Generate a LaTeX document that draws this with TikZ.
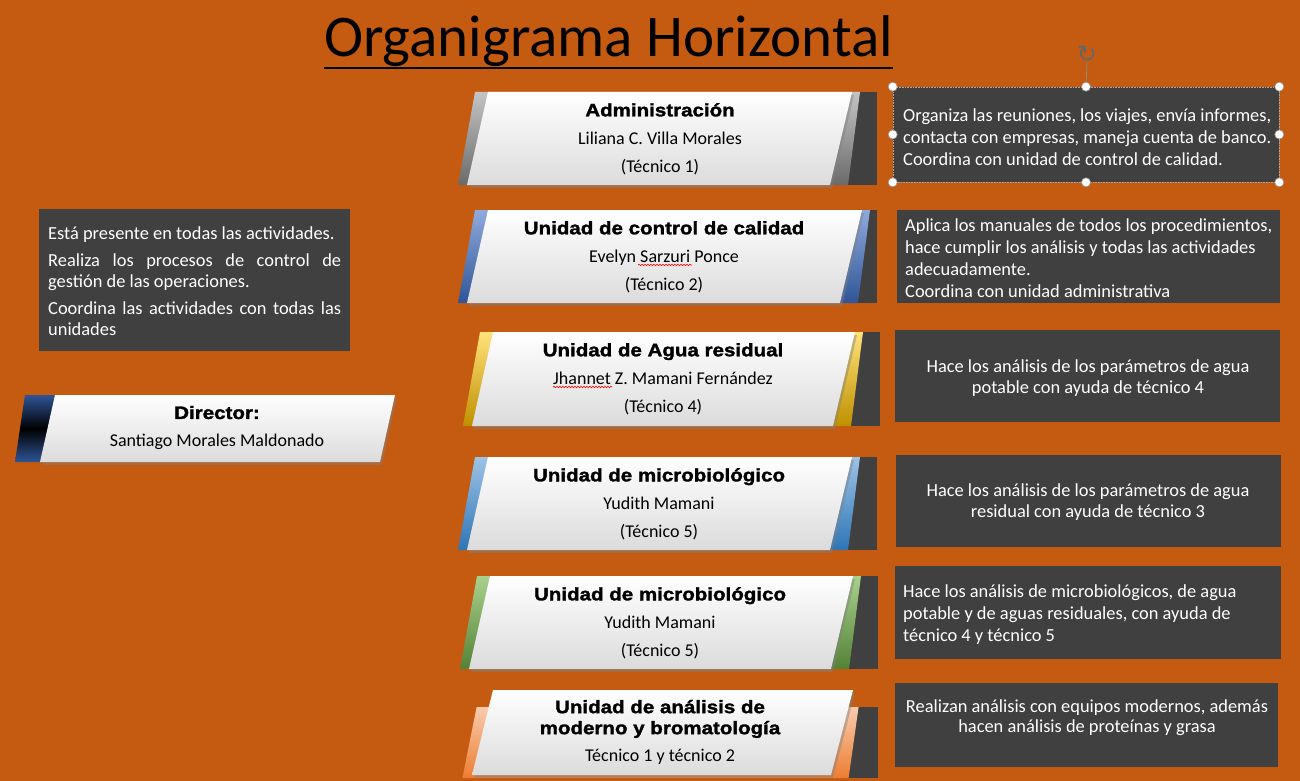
\documentclass[tikz,border=0pt]{standalone}
\usepackage{fontspec}
\setmainfont{Carlito}
\newfontfamily\headfont[FakeStretch=1.14,FakeBold=1.6]{Liberation Sans Bold}
\newfontfamily\symfont{DejaVu Sans}
\usetikzlibrary{shadows,decorations.pathmorphing}
\definecolor{bg}{HTML}{C55A11}
\definecolor{boxgray}{HTML}{404040}
\definecolor{grayA}{HTML}{C4C4C4}
\definecolor{grayB}{HTML}{6A6A6A}
\definecolor{blueA}{HTML}{8FAADC}
\definecolor{blueB}{HTML}{2F5597}
\definecolor{yelA}{HTML}{FFE27A}
\definecolor{yelB}{HTML}{BF9000}
\definecolor{lbA}{HTML}{9DC3E6}
\definecolor{lbB}{HTML}{2E75B6}
\definecolor{grA}{HTML}{A9D18E}
\definecolor{grB}{HTML}{548235}
\definecolor{orA}{HTML}{F8CBAD}
\definecolor{orB}{HTML}{ED7D31}
\definecolor{navy}{HTML}{2F5597}
\newcommand{\hd}[1]{{\headfont\fontsize{18}{28}\selectfont #1}}
% #1 T, #2 B, #3 tlx, #4 trx, #5 accT, #6 accB, #7 light, #8 dark, #9 tab right
\newcommand{\unitbox}[9]{%
  \fill[tabbox] (#4-7,#5) rectangle (#9,#6);
  \shade[top color=#7,bottom color=#8]
    ({#3-13-17*(#5-#1)/(#2-#1)},#5) -- ({#4+8-12*(#5-#1)/(#2-#1)},#5)
    -- ({#4+8-12*(#6-#1)/(#2-#1)},#6) -- ({#3-13-17*(#6-#1)/(#2-#1)},#6) -- cycle;
  \shade[whitebody] (#3,#1) -- (#4,#1) -- (#4-22,#2) -- (#3-21,#2) -- cycle;
}
\begin{document}
\begin{tikzpicture}[x=1pt,y=-1pt,
  whitebody/.style={top color=white,bottom color=black!14,
    drop shadow={opacity=0.45,shadow xshift=2pt,shadow yshift=-3pt}},
  tabbox/.style={fill=boxgray},
  dbox/.style={fill=boxgray,inner sep=0pt,draw=none},
  dtext/.style={text=white,font=\fontsize{18.4}{22}\selectfont,inner sep=0pt},
  utext/.style={font=\fontsize{18}{28}\selectfont,align=center,inner sep=0pt},
  handle/.style={circle,fill=white,draw=black!40,line width=0.6pt,minimum size=9pt,inner sep=0pt},
  spell/.style={red,line width=0.6pt,decorate,decoration={snake,amplitude=0.8pt,segment length=3pt}}
]
\useasboundingbox (0,0) rectangle (1300,781);
\fill[bg] (0,0) rectangle (1300,781);

% title
\node[font=\fontsize{59}{61}\selectfont,anchor=base,inner sep=0pt] (title) at (608.5,57) {Organigrama Horizontal};
\draw[line width=2.5pt] ([yshift=-11pt]title.base west) -- ([yshift=-11pt]title.base east);

% unit boxes
\unitbox{92}{185}{488}{852}{92}{185}{grayA}{grayB}{877}
\unitbox{210}{303}{488}{862}{210}{303}{blueA}{blueB}{877}
\unitbox{332}{426}{493}{855}{332}{426}{yelA}{yelB}{880}
\unitbox{457}{550}{488}{852}{457}{550}{lbA}{lbB}{877}
\unitbox{576}{669}{490}{853}{576}{669}{grA}{grB}{878}
\unitbox{690}{775}{493}{853}{707}{778}{orA}{orB}{878}

\node[utext] (u1) at (660,139) {\hd{Administración}\\Liliana C. Villa Morales\\(Técnico 1)};
\node[utext] (u2) at (664,257) {\hd{Unidad de control de calidad}\\Evelyn Sarzuri Ponce\\(Técnico 2)};
\node[utext] (u3) at (663,379) {\hd{Unidad de Agua residual}\\Jhannet Z. Mamani Fernández\\(Técnico 4)};
\node[utext] (u4) at (659,504) {\hd{Unidad de microbiológico}\\Yudith Mamani\\(Técnico 5)};
\node[utext] (u5) at (660,623) {\hd{Unidad de microbiológico}\\Yudith Mamani\\(Técnico 5)};
\node[utext] (u6) at (660,732) {\hd{Unidad de análisis de}\\[-7pt]\hd{moderno y bromatología}\\[-1pt]Técnico 1 y técnico 2};

\coordinate (s2a) at (638,265); \coordinate (s2b) at (692,265);
\draw[spell] (s2a) -- (s2b);
\coordinate (s3a) at (553,387); \coordinate (s3b) at (612,387);
\draw[spell] (s3a) -- (s3b);

% director
\shade[top color=navy,bottom color=navy,middle color=black] (25,395) -- (62,395) -- (48,462) -- (15,462) -- cycle;
\shade[whitebody] (55,395) -- (395,395) -- (380,462) -- (40,462) -- cycle;
\node[utext] (dir) at (217,428) {\hd{Director:}\\Santiago Morales Maldonado};

% left description box
\node[dbox,minimum width=311pt,minimum height=142pt] (lb) at (194.5,280) {};
\node[dtext,font=\fontsize{18.4}{21}\selectfont,align=left,anchor=west] (lt) at (48,281)
  {Está presente en todas las actividades.\\[6pt]\makebox[293pt][s]{Realiza los procesos de control de}\\gestión de las operaciones.\\[6pt]\makebox[293pt][s]{Coordina las actividades con todas las}\\unidades};

% right description boxes
\node[dbox,minimum width=386pt,minimum height=95pt,draw=black!35,densely dotted,line width=0.6pt] (b1) at (1086,134.5) {};
\node[dbox,minimum width=383pt,minimum height=93pt] (b2) at (1088.5,256.5) {};
\node[dbox,minimum width=385pt,minimum height=92pt] (b3) at (1087.5,376) {};
\node[dbox,minimum width=385pt,minimum height=92pt] (b4) at (1088.5,501) {};
\node[dbox,minimum width=386pt,minimum height=93pt] (b5) at (1088,612.5) {};
\node[dbox,minimum width=383pt,minimum height=84pt] (b6) at (1086.5,725) {};

\node[dtext,align=left,anchor=west] (t1) at (903,137) {Organiza las reuniones, los viajes, envía informes,\\contacta con empresas, maneja cuenta de banco.\\Coordina con unidad de control de calidad.};
\node[dtext,align=left,anchor=west] (t2) at (905,258) {Aplica los manuales de todos los procedimientos,\\hace cumplir los análisis y todas las actividades\\adecuadamente.\\Coordina con unidad administrativa};
\node[dtext,align=center,font=\fontsize{18.4}{21}\selectfont] (t3) at (1088,378) {Hace los análisis de los parámetros de agua\\potable con ayuda de técnico 4};
\node[dtext,align=center,font=\fontsize{18.4}{20.5}\selectfont] (t4) at (1088,502) {Hace los análisis de los parámetros de agua\\residual con ayuda de técnico 3};
\node[dtext,align=left,anchor=west] (t5) at (903,615) {Hace los análisis de microbiológicos, de agua\\potable y de aguas residuales, con ayuda de\\técnico 4 y técnico 5};
\node[dtext,align=center,font=\fontsize{18.4}{20}\selectfont] (t6) at (1087,718) {Realizan análisis con equipos modernos, además\\hacen análisis de proteínas y grasa};

% selection handles
\node[inner sep=0pt,text=black!60,font=\symfont\fontsize{24}{24}\selectfont] (rot) at (1087,54) {↻};
\draw[black!45,line width=0.7pt] (rot.south) -- (b1.north);
\foreach \n/\p in {h1/north west,h2/north,h3/north east,h4/west,h5/east,h6/south west,h7/south,h8/south east}
  \node[handle] (\n) at (b1.\p) {};
\end{tikzpicture}
\end{document}
